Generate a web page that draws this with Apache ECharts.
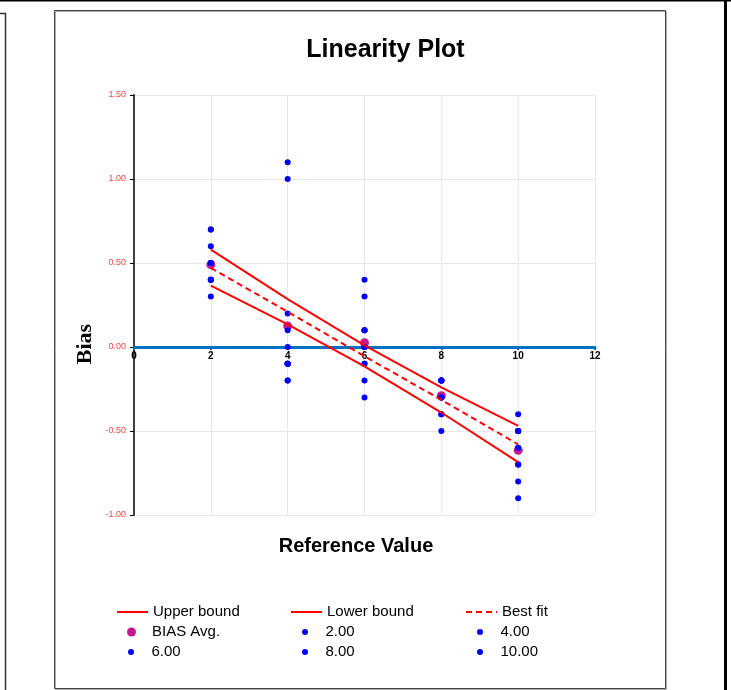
<!DOCTYPE html>
<html lang="en">
<head>
<meta charset="utf-8">
<title>Linearity Plot</title>
<script src="https://cdn.jsdelivr.net/npm/echarts@6/dist/echarts.min.js"></script>
<style>
  html, body { margin: 0; padding: 0; background: #fff; }
  #main { width: 731px; height: 690px; }
</style>
</head>
<body>
<div id="main"></div>
<script>
// reference values (x) and the bias readings per part
var refs = [2, 4, 6, 8, 10];
var bias2  = [0.7, 0.5, 0.4, 0.5, 0.7, 0.3, 0.5, 0.5, 0.4, 0.4, 0.6, 0.4];
var bias4  = [1.1, -0.1, 0.2, 1.0, -0.2, -0.1, -0.1, -0.1, -0.1, 0.0, 0.1, -0.2];
var bias6  = [-0.2, -0.3, -0.1, -0.1, 0.0, 0.1, 0.0, 0.1, 0.4, 0.3, 0.0, 0.1];
var bias8  = [-0.4, -0.3, -0.2, -0.3, -0.2, -0.2, -0.2, -0.3, -0.2, -0.5, -0.4, -0.3];
var bias10 = [-0.9, -0.7, -0.5, -0.7, -0.6, -0.5, -0.5, -0.5, -0.4, -0.8, -0.7, -0.6];
var biasAvg    = [0.49, 0.125, 0.025, -0.29, -0.615];
var upperBound = [0.58, 0.285, 0.01, -0.24, -0.47];
var lowerBound = [0.365, 0.135, -0.115, -0.39, -0.685];
var bestFit    = [0.47, 0.21, -0.055, -0.315, -0.58];

var RED = '#ff0000', BLUE = '#0000ff', PINK = '#c8178c';

function pairs(xs, ys) {
    return ys.map(function (v, i) { return [xs[i], v]; });
}
function column(x, ys) {
    return ys.map(function (v) { return [x, v]; });
}

var dotSeries = [
    { name: '2.00', x: 2, data: bias2 },
    { name: '4.00', x: 4, data: bias4 },
    { name: '6.00', x: 6, data: bias6 },
    { name: '8.00', x: 8, data: bias8 },
    { name: '10.00', x: 10, data: bias10 }
];

var series = [
    { name: 'Upper bound', type: 'line', symbol: 'none', data: pairs(refs, upperBound),
      lineStyle: { color: RED, width: 2 }, itemStyle: { color: RED } },
    { name: 'Lower bound', type: 'line', symbol: 'none', data: pairs(refs, lowerBound),
      lineStyle: { color: RED, width: 2 }, itemStyle: { color: RED } },
    { name: 'Best fit', type: 'line', symbol: 'none', data: pairs(refs, bestFit),
      lineStyle: { color: RED, width: 2, type: [6, 4] }, itemStyle: { color: RED } },
    { name: 'BIAS Avg.', type: 'scatter', symbolSize: 9, data: pairs(refs, biasAvg),
      itemStyle: { color: PINK, opacity: 1 } }
];
dotSeries.forEach(function (d) {
    series.push({ name: d.name, type: 'scatter', symbolSize: 6, data: column(d.x, d.data),
        itemStyle: { color: BLUE, opacity: 1 } });
});

// legend: three columns x three rows, one small legend per item
// [name, left, row centre, icon height]
var legendCells = [
    ['Upper bound', 116, 612, 1], ['Lower bound', 290, 612, 1], ['Best fit', 465, 612, 1],
    ['BIAS Avg.', 127, 632, 9],   ['2.00', 302, 632, 6],        ['4.00', 477, 632, 6],
    ['6.00', 128, 652, 6],        ['8.00', 302, 652, 6],        ['10.00', 477, 652, 6]
];
var legends = legendCells.map(function (c) {
    return {
        data: [c[0]], left: c[1], top: c[2] - 8, padding: 0,
        itemWidth: 31, itemHeight: c[3], selectedMode: false,
        textStyle: { fontFamily: 'Liberation Sans, Arial', fontSize: 15, color: '#000', lineHeight: 16 }
    };
});

var myChart = echarts.init(document.getElementById('main'));
var option = {
    animation: false,
    backgroundColor: '#fff',
    legend: legends,
    grid: { left: 134, right: 136, top: 95, bottom: 175 },
    xAxis: {
        type: 'value', min: 0, max: 12, interval: 2,
        // zero sits 168px above the bottom of the plot
        offset: -168,
        axisLine: { onZero: false, lineStyle: { color: '#0070c0', width: 3 } },
        axisTick: { show: true, length: 3, lineStyle: { color: '#0070c0', width: 2 } },
        axisLabel: { color: '#000', fontWeight: 'bold', fontSize: 10, margin: 4,
            fontFamily: 'Liberation Sans, Arial' },
        splitLine: { show: true, lineStyle: { color: '#e8e8e8', width: 1 } }
    },
    yAxis: {
        type: 'value', min: -1, max: 1.5, interval: 0.5,
        axisLine: { show: true, lineStyle: { color: '#404040', width: 2 } },
        axisTick: { show: true, length: 4, lineStyle: { color: '#000' } },
        axisLabel: { color: '#ff4040', fontSize: 9, margin: 8, fontFamily: 'Liberation Sans, Arial',
            formatter: function (v) { return v.toFixed(2); } },
        splitLine: { show: true, lineStyle: { color: '#e8e8e8', width: 1 } }
    },
    graphic: [
        // frames around the chart area
        { type: 'rect', shape: { x: 0, y: 0, width: 731, height: 1.5 }, style: { fill: '#000' }, silent: true },
        { type: 'rect', shape: { x: 724, y: 0, width: 3, height: 690 }, style: { fill: '#000' }, silent: true },
        { type: 'polyline', shape: { points: [[0, 13.5], [5.5, 13.5], [5.5, 690]] },
          style: { stroke: '#333', lineWidth: 1.5, fill: null }, silent: true },
        { type: 'rect', shape: { x: 55.5, y: 11.5, width: 611, height: 678 },
          style: { stroke: '#b0b0b0', lineWidth: 1, fill: null }, silent: true },
        { type: 'rect', shape: { x: 54.5, y: 10.5, width: 611, height: 678 },
          style: { stroke: '#444', lineWidth: 1, fill: null }, silent: true },
        // titles
        { type: 'text', x: 385.5, y: 50,
          style: { text: 'Linearity Plot', fontFamily: 'Liberation Sans, Arial', fontSize: 25,
                   fontWeight: 'bold', fill: '#000', align: 'center', verticalAlign: 'middle' } },
        { type: 'text', x: 85, y: 344, rotation: Math.PI / 2,
          style: { text: 'Bias', fontFamily: 'Liberation Serif, Times New Roman', fontSize: 22,
                   fontWeight: 'bold', fill: '#000', align: 'center', verticalAlign: 'middle' } },
        { type: 'text', x: 356, y: 546,
          style: { text: 'Reference Value', fontFamily: 'Liberation Sans, Arial', fontSize: 20,
                   fontWeight: 'bold', fill: '#000', align: 'center', verticalAlign: 'middle' } }
    ],
    series: series
};
myChart.setOption(option);
</script>
</body>
</html>
